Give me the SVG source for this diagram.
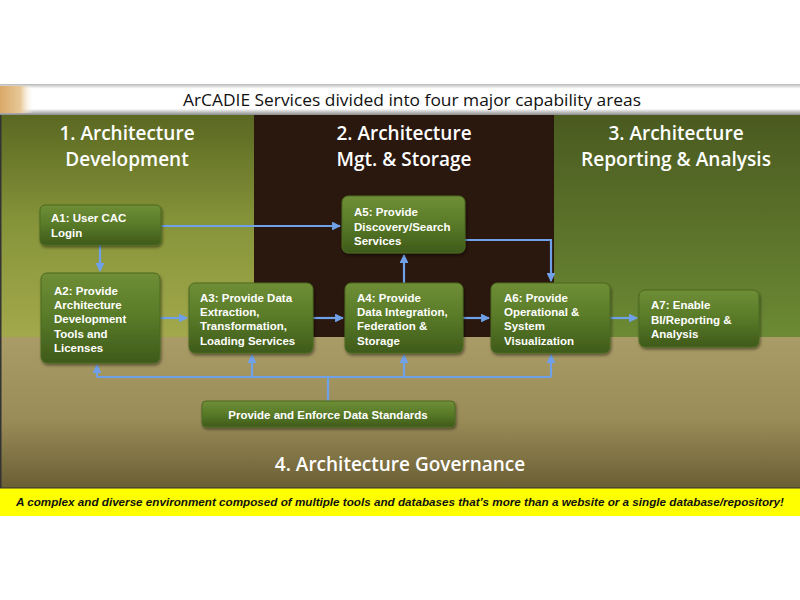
<svg xmlns="http://www.w3.org/2000/svg" width="800" height="600" viewBox="0 0 800 600">
<defs>
<linearGradient id="g1" x1="0" y1="0" x2="0" y2="1"><stop offset="0" stop-color="#5a6822"/><stop offset="0.5" stop-color="#87953a"/><stop offset="1" stop-color="#a3a84c"/></linearGradient>
<linearGradient id="g3" x1="0" y1="0" x2="0" y2="1"><stop offset="0" stop-color="#4a5a20"/><stop offset="1" stop-color="#6c8a34"/></linearGradient>
<linearGradient id="gt" x1="0" y1="0" x2="0" y2="1"><stop offset="0" stop-color="#aa9c66"/><stop offset="0.55" stop-color="#9a8c58"/><stop offset="1" stop-color="#6a5e34"/></linearGradient>
<linearGradient id="gtitle" x1="0" y1="0" x2="0" y2="1"><stop offset="0" stop-color="#b8b8b8"/><stop offset="0.15" stop-color="#ffffff"/><stop offset="0.8" stop-color="#ffffff"/><stop offset="1" stop-color="#8a8a8a"/></linearGradient>
<linearGradient id="gleft" x1="0" y1="0" x2="1" y2="0"><stop offset="0" stop-color="#d9a868"/><stop offset="0.6" stop-color="#e8c898"/><stop offset="1" stop-color="#ffffff" stop-opacity="0"/></linearGradient>
<linearGradient id="gn" x1="0" y1="0" x2="0" y2="1"><stop offset="0" stop-color="#6f8e36"/><stop offset="0.5" stop-color="#587a28"/><stop offset="1" stop-color="#3f5a1a"/></linearGradient>
<filter id="sh" x="-10%" y="-10%" width="120%" height="130%"><feDropShadow dx="1" dy="2" stdDeviation="1.5" flood-color="#000" flood-opacity="0.45"/></filter>
<marker id="ah" viewBox="0 0 10 10" refX="9" refY="5" markerWidth="4" markerHeight="4" orient="auto"><path d="M0,0 L10,5 L0,10 z" fill="#6fa0e8"/></marker>
<style>
.node rect{fill:url(#gn);stroke:#4c6a20;stroke-width:1;filter:url(#sh)}
.nt{font-family:"Liberation Sans",Arial,sans-serif;font-weight:bold;font-size:11.5px;fill:#ffffff}
.hd{font-family:"Open Sans","Liberation Sans",sans-serif;font-weight:600;font-size:19px;fill:#ffffff;text-anchor:middle}
.cn path,.cn line{stroke:#6fa0e8;stroke-width:2.2;fill:none}
.arr{marker-end:url(#ah)}
</style>
</defs>
<rect width="800" height="600" fill="#ffffff"/>
<!-- title bar -->
<rect x="0" y="84" width="800" height="31" fill="url(#gtitle)"/>
<rect x="0" y="86" width="34" height="27" fill="url(#gleft)"/>
<text x="412" y="106" font-family="Open Sans,Liberation Sans,sans-serif" font-size="17" fill="#111" text-anchor="middle" textLength="458" lengthAdjust="spacingAndGlyphs">ArCADIE Services divided into four major capability areas</text>
<!-- panels -->
<rect x="0" y="115" width="254" height="222" fill="url(#g1)"/>
<rect x="254" y="115" width="300" height="222" fill="#2a170e"/>
<rect x="554" y="115" width="246" height="222" fill="url(#g3)"/>
<rect x="0" y="337" width="800" height="151" fill="url(#gt)"/>
<rect x="0" y="115" width="1.5" height="401" fill="#333"/>
<!-- headers -->
<text class="hd" x="127" y="140">1. Architecture</text>
<text class="hd" x="127" y="166">Development</text>
<text class="hd" x="404" y="140">2. Architecture</text>
<text class="hd" x="404" y="166">Mgt. &amp; Storage</text>
<text class="hd" x="676" y="140">3. Architecture</text>
<text class="hd" x="676" y="166" textLength="190" lengthAdjust="spacingAndGlyphs">Reporting &amp; Analysis</text>
<text class="hd" x="400" y="471">4. Architecture Governance</text>
<!-- yellow bar -->
<rect x="0" y="488" width="800" height="28" fill="#ffff00"/>
<line x1="0" y1="488" x2="800" y2="488" stroke="#333" stroke-width="1"/>
<text x="400" y="506" font-family="Liberation Sans,Arial,sans-serif" font-weight="bold" font-style="italic" font-size="11" fill="#111" text-anchor="middle" textLength="768" lengthAdjust="spacingAndGlyphs">A complex and diverse environment composed  of multiple tools and databases  that’s more than a website or a single database/repository!</text>
<!-- connectors -->
<g id="connectors" class="cn">
<path class="arr" d="M161,226 H340"/>
<path class="arr" d="M100,245 V271"/>
<path class="arr" d="M160,318 H187"/>
<path class="arr" d="M313,318 H343"/>
<path class="arr" d="M404,283 V255"/>
<path class="arr" d="M463,318 H489"/>
<path class="arr" d="M465,240 H551 V281"/>
<path class="arr" d="M610,318 H637"/>
<path d="M97,377 H551"/>
<path d="M328,401 V377"/>
<path class="arr" d="M97,377 V365"/>
<path class="arr" d="M252,377 V355"/>
<path class="arr" d="M404,377 V355"/>
<path class="arr" d="M551,377 V355"/>
</g>
<!-- nodes -->
<g id="A1" class="node"><rect x="40" y="205" width="121" height="40" rx="5"/><text class="nt" x="51" y="222">A1: User CAC</text><text class="nt" x="51" y="237">Login</text></g>
<g id="A2" class="node"><rect x="41" y="273" width="119" height="90" rx="6"/><text class="nt" x="54" y="295">A2: Provide</text><text class="nt" x="54" y="309">Architecture</text><text class="nt" x="54" y="323">Development</text><text class="nt" x="54" y="338">Tools and</text><text class="nt" x="54" y="352">Licenses</text></g>
<g id="A3" class="node"><rect x="189" y="283" width="124" height="70" rx="6"/><text class="nt" x="200" y="302">A3: Provide Data</text><text class="nt" x="200" y="316">Extraction,</text><text class="nt" x="200" y="330">Transformation,</text><text class="nt" x="200" y="345">Loading Services</text></g>
<g id="A4" class="node"><rect x="345" y="283" width="118" height="70" rx="6"/><text class="nt" x="357" y="302">A4: Provide</text><text class="nt" x="357" y="316">Data Integration,</text><text class="nt" x="357" y="330">Federation &amp;</text><text class="nt" x="357" y="345">Storage</text></g>
<g id="A5" class="node"><rect x="342" y="196" width="123" height="57" rx="6"/><text class="nt" x="354" y="216">A5: Provide</text><text class="nt" x="354" y="231">Discovery/Search</text><text class="nt" x="354" y="245">Services</text></g>
<g id="A6" class="node"><rect x="491" y="283" width="119" height="70" rx="6"/><text class="nt" x="504" y="302">A6: Provide</text><text class="nt" x="504" y="316">Operational &amp;</text><text class="nt" x="504" y="330">System</text><text class="nt" x="504" y="345">Visualization</text></g>
<g id="A7" class="node"><rect x="639" y="290" width="120" height="57" rx="6"/><text class="nt" x="651" y="309">A7: Enable</text><text class="nt" x="651" y="324">BI/Reporting &amp;</text><text class="nt" x="651" y="338">Analysis</text></g>
<g id="DS" class="node"><rect x="202" y="401" width="253" height="26" rx="4"/><text class="nt" x="328" y="419" text-anchor="middle">Provide and Enforce Data Standards</text></g>
</svg>
